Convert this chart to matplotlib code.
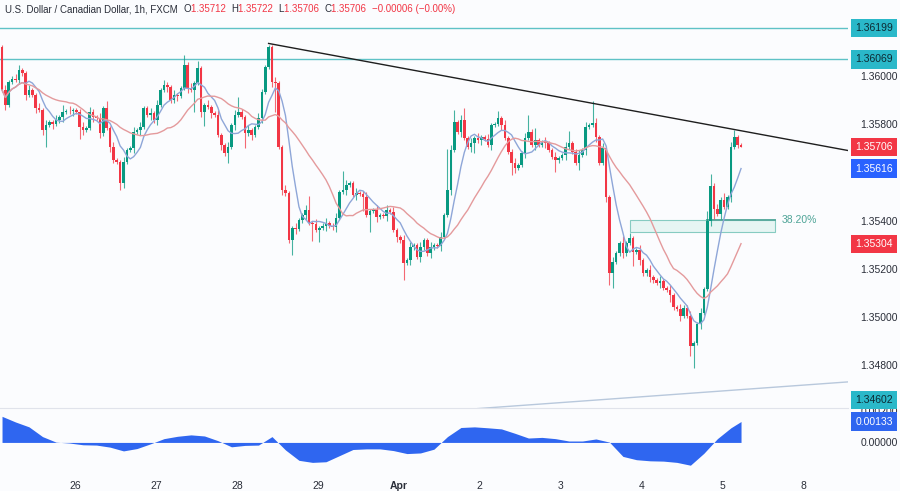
import matplotlib.pyplot as plt
import matplotlib.patches as patches
import numpy as np
import pandas as pd

plt.rcParams["font.family"] = ["Liberation Sans", "DejaVu Sans"]

# USD/CAD 1h candles (closes), opens = previous close
first_open = 1.36120
closes = [
    1.35942, 1.35880, 1.35975, 1.35988, 1.35985, 1.36025, 1.36012, 1.35921, 1.35942, 1.35921,
    1.35867, 1.35859, 1.35776, 1.35797, 1.35809, 1.35801, 1.35817, 1.35830, 1.35851, 1.35855,
    1.35853, 1.35859, 1.35851, 1.35788, 1.35776, 1.35784, 1.35851, 1.35830, 1.35826, 1.35763,
    1.35867, 1.35784, 1.35705, 1.35651, 1.35643, 1.35556, 1.35643, 1.35693, 1.35701, 1.35768,
    1.35776, 1.35788, 1.35867, 1.35838, 1.35846, 1.35817, 1.35880, 1.35942, 1.35963, 1.35954,
    1.35900, 1.35921, 1.35918, 1.35950, 1.36046, 1.35950, 1.35942, 1.35971, 1.36033, 1.35851,
    1.35880, 1.35871, 1.35846, 1.35838, 1.35755, 1.35714, 1.35680, 1.35705, 1.35797, 1.35838,
    1.35851, 1.35830, 1.35763, 1.35776, 1.35755, 1.35788, 1.35826, 1.35934, 1.36037, 1.36120,
    1.35975, 1.35971, 1.35705, 1.35527, 1.35514, 1.35319, 1.35369, 1.35365, 1.35402, 1.35423,
    1.35444, 1.35390, 1.35386, 1.35361, 1.35369, 1.35378, 1.35390, 1.35378, 1.35373, 1.35411,
    1.35519, 1.35527, 1.35548, 1.35556, 1.35506, 1.35514, 1.35512, 1.35498, 1.35423, 1.35440,
    1.35444, 1.35415, 1.35423, 1.35420, 1.35444, 1.35436, 1.35361, 1.35332, 1.35319, 1.35224,
    1.35236, 1.35290, 1.35299, 1.35249, 1.35290, 1.35319, 1.35265, 1.35290, 1.35299, 1.35295,
    1.35332, 1.35423, 1.35527, 1.35693, 1.35809, 1.35768, 1.35817, 1.35743, 1.35705, 1.35722,
    1.35743, 1.35734, 1.35747, 1.35739, 1.35714, 1.35797, 1.35801, 1.35826, 1.35797, 1.35743,
    1.35685, 1.35639, 1.35618, 1.35631, 1.35680, 1.35743, 1.35768, 1.35714, 1.35734, 1.35714,
    1.35726, 1.35722, 1.35693, 1.35664, 1.35651, 1.35660, 1.35672, 1.35705, 1.35722, 1.35685,
    1.35639, 1.35672, 1.35693, 1.35788, 1.35797, 1.35805, 1.35747, 1.35639, 1.35701, 1.35498,
    1.35182, 1.35228, 1.35265, 1.35307, 1.35265, 1.35307, 1.35328, 1.35270, 1.35278, 1.35236,
    1.35182, 1.35195, 1.35166, 1.35153, 1.35141, 1.35149, 1.35120, 1.35112, 1.35091, 1.35041,
    1.35033, 1.35004, 1.35038, 1.35004, 1.34880, 1.34892, 1.34971, 1.35017, 1.35116, 1.35399,
    1.35544, 1.35448, 1.35428, 1.35486, 1.35457, 1.35498, 1.35705, 1.35747, 1.35712, 1.35706,
]
# wick lengths beyond the body, in pips
wick_hi = [
    1, 2, 1, 1, 2, 2, 1, 1, 2, 1, 1, 2, 1, 2, 1, 1, 2, 1, 3, 1,
    2, 1, 1, 1, 2, 1, 2, 1, 1, 2, 1, 3, 1, 2, 1, 1, 2, 1, 1, 2,
    1, 2, 1, 1, 2, 1, 2, 1, 2, 1, 1, 2, 1, 1, 4, 1, 2, 1, 3, 1,
    1, 2, 1, 1, 2, 1, 1, 2, 1, 2, 6, 1, 1, 2, 1, 1, 2, 1, 1, 1,
    1, 2, 1, 1, 2, 1, 1, 2, 1, 1, 2, 6, 1, 2, 1, 1, 2, 1, 1, 2,
    1, 8, 2, 1, 1, 2, 1, 1, 2, 1, 1, 2, 1, 1, 2, 1, 2, 1, 1, 2,
    1, 2, 1, 1, 2, 1, 1, 2, 1, 1, 2, 1, 17, 2, 5, 1, 2, 5, 1, 2,
    1, 2, 1, 1, 2, 1, 1, 3, 1, 2, 1, 1, 2, 1, 1, 2, 7, 1, 5, 1,
    1, 2, 1, 1, 2, 1, 1, 2, 5, 1, 1, 2, 1, 2, 1, 9, 2, 1, 2, 1,
    1, 2, 1, 1, 3, 1, 2, 1, 1, 2, 1, 1, 2, 1, 1, 2, 1, 1, 2, 1,
    1, 2, 1, 1, 2, 1, 1, 2, 1, 4, 5, 1, 2, 1, 3, 1, 2, 3, 1, 1,
]
wick_lo = [
    1, 2, 1, 1, 1, 2, 1, 2, 1, 1, 2, 1, 2, 7, 1, 2, 1, 1, 2, 1,
    1, 2, 1, 5, 2, 1, 1, 2, 1, 2, 1, 1, 2, 1, 1, 3, 2, 1, 1, 2,
    1, 2, 1, 1, 2, 1, 2, 1, 1, 2, 1, 1, 2, 1, 1, 2, 1, 9, 1, 2,
    6, 1, 2, 1, 1, 2, 1, 4, 1, 2, 1, 1, 6, 1, 2, 1, 1, 2, 1, 1,
    2, 12, 1, 2, 1, 1, 6, 2, 1, 1, 2, 1, 7, 1, 5, 1, 2, 1, 1, 2,
    1, 1, 2, 1, 1, 2, 1, 6, 1, 7, 1, 2, 1, 1, 2, 1, 1, 2, 1, 7,
    1, 2, 1, 1, 2, 1, 1, 2, 1, 1, 2, 1, 1, 2, 1, 1, 2, 1, 1, 2,
    4, 1, 2, 1, 1, 2, 1, 1, 2, 1, 1, 5, 2, 1, 1, 2, 1, 1, 2, 1,
    1, 2, 1, 1, 5, 1, 1, 2, 1, 1, 1, 3, 1, 2, 1, 1, 2, 1, 1, 2,
    5, 6, 1, 1, 2, 1, 1, 6, 1, 2, 1, 1, 2, 1, 1, 2, 1, 1, 3, 1,
    1, 2, 1, 1, 4, 9, 1, 2, 1, 1, 2, 4, 1, 2, 1, 1, 2, 1, 1, 0,
]

# lower oscillator pane, sampled every 4 bars
osc_bars = list(range(0, 220, 4)) + [219]
osc_vals = [
    0.00166, 0.00130, 0.00099, 0.00037, 0.00002, -0.00004, -0.00015, -0.00017, -0.00030, -0.00054,
    -0.00039, -0.00009, 0.00024, 0.00039, 0.00048, 0.00041, 0.00011, -0.00028, -0.00019, -0.00017,
    0.00037, -0.00048, -0.00114, -0.00127, -0.00123, -0.00084, -0.00045, -0.00041, -0.00041, -0.00052,
    -0.00071, -0.00067, -0.00043, 0.00037, 0.00095, 0.00099, 0.00093, 0.00086, 0.00058, 0.00028,
    0.00032, 0.00024, 0.00009, 0.00009, 0.00022, 0.00002, -0.00089, -0.00110, -0.00117, -0.00119,
    -0.00127, -0.00145, -0.00069, 0.00024, 0.00093, 0.00133,
]

level_prices = [1.36199, 1.36069]
trend_bars = [79, 251]
trend_prices = [1.36135, 1.35690]
support_bars = [141, 251]
support_prices = [1.34620, 1.34731]
fib_bars = [186, 229]
fib_prices = [1.35353, 1.35402]
day_labels = ["26", "27", "28", "29", "Apr", "2", "3", "4", "5", "8"]
price_ticks = [1.348, 1.350, 1.352, 1.354, 1.358, 1.360]

df = pd.DataFrame({"close": closes})
df["open"] = df["close"].shift(1).fillna(first_open)
df["high"] = df[["open", "close"]].max(axis=1) + np.array(wick_hi) * 0.0001
df["low"] = df[["open", "close"]].min(axis=1) - np.array(wick_lo) * 0.0001
df["fast"] = df["close"].rolling(7, min_periods=1).mean()
df["slow"] = df["close"].rolling(20, min_periods=1).mean()
x = np.arange(len(df))

BG = "#fbfcfe"
GREEN = "#089981"
RED = "#f23645"
TXT = "#2a2e39"

fig = plt.figure(figsize=(9, 4.91), dpi=100, facecolor=BG)
ax = fig.add_axes([0, 1 - 408 / 491, 848 / 900, 408 / 491], facecolor=BG)
ax2 = fig.add_axes([0, 25 / 491, 848 / 900, 58 / 491], facecolor=BG, sharex=ax)

up = df["close"] >= df["open"]
colors = np.where(up, GREEN, RED)
ax.vlines(x, df["low"], df["high"], colors=colors, lw=0.8, alpha=0.75, zorder=3)
body = (df["close"] - df["open"]).abs().clip(lower=0.000015)
ax.bar(x, body, bottom=df[["open", "close"]].min(axis=1), width=0.78,
       color=colors, lw=0, zorder=4)

ax.plot(x, df["fast"], color="#8ea6d8", lw=1, zorder=5)
ax.plot(x, df["slow"], color="#e49a9c", lw=1, zorder=5)

for p in level_prices:
    ax.axhline(p, color="#5ec2c6", lw=1, zorder=2)
ax.plot(trend_bars, trend_prices, color="#1e1e1e", lw=1, zorder=6)
ax.plot(support_bars, support_prices, color="#b8c8dc", lw=1, zorder=2)

ax.add_patch(patches.Rectangle((fib_bars[0], fib_prices[0]), fib_bars[1] - fib_bars[0],
                               fib_prices[1] - fib_prices[0], fc="#e6f5f3", ec="#86cbc1",
                               lw=0.8, zorder=2))
ax.plot([fib_bars[0] + 23, fib_bars[1]], [fib_prices[1]] * 2, color="#5aab9f", lw=1.4, zorder=2)
ax.text(fib_bars[1] + 2, fib_prices[1], "38.20%", color="#4ea497", fontsize=7.5,
        va="center", ha="left")

ax.set_xlim(-0.6, 250.7)
ax.set_ylim(1.346224, 1.363153)
ax.yaxis.tick_right()
ax.set_yticks(price_ticks)
ax.set_yticklabels([f"{t:.5f}" for t in price_ticks])
ax.tick_params(axis="y", length=0, pad=9, labelsize=7.5, labelcolor=TXT)
ax.tick_params(axis="x", length=0, labelbottom=False)
for s in ax.spines.values():
    s.set_visible(False)

# oscillator
ax2.fill_between(osc_bars, osc_vals, 0, color="#2f66f0", lw=0)
ax2.set_ylim(-0.00150, 0.00219)
ax2.yaxis.tick_right()
ax2.set_yticks([0.0, 0.002])
ax2.set_yticklabels(["0.00000", "0.00200"])
ax2.tick_params(axis="y", length=0, pad=9, labelsize=7.5, labelcolor=TXT)
ax2.set_xticks([21.6 + 24 * k for k in range(len(day_labels))])
ax2.set_xticklabels(day_labels)
ax2.tick_params(axis="x", length=0, pad=11, labelsize=7.5, labelcolor=TXT)
for lab in ax2.get_xticklabels():
    if lab.get_text() == "Apr":
        lab.set_fontweight("bold")
for s in ax2.spines.values():
    s.set_visible(False)
ax2.spines["top"].set_visible(True)
ax2.spines["top"].set_color("#e0e3eb")


def tag(axis, y, text, bg, fg):
    axis.text(1.0085, y, text, transform=axis.get_yaxis_transform(), va="center", ha="left",
              fontsize=7.5, color=fg, zorder=10, clip_on=False,
              bbox=dict(boxstyle="square,pad=0.4", fc=bg, ec="none"))


tag(ax, level_prices[0], f"{level_prices[0]:.5f}", "#2ab8c9", "#0d2a33")
tag(ax, level_prices[1], f"{level_prices[1]:.5f}", "#2ab8c9", "#0d2a33")
tag(ax, closes[-1], f"{closes[-1]:.5f}", RED, "white")
tag(ax, df["fast"].iloc[-1], f"{df['fast'].iloc[-1]:.5f}", "#2962ff", "white")
tag(ax, df["slow"].iloc[-1], f"{df['slow'].iloc[-1]:.5f}", RED, "white")
tag(ax2, osc_vals[-1], f"{osc_vals[-1]:.5f}", "#2f66f0", "white")
# support line level sits below the pane, so its tag is pinned to the pane bottom
fig.text(855.5 / 900, 1 - 400 / 491, f"{support_prices[0] - 0.00018:.5f}", fontsize=7.5,
         color="#0d2a33", va="center", ha="left", zorder=10,
         bbox=dict(boxstyle="square,pad=0.4", fc="#2ab8c9", ec="none"))

# header line
header = [
    ("U.S. Dollar / Canadian Dollar, 1h, FXCM  ", TXT),
    ("O", TXT), ("1.35712  ", RED), ("H", TXT), ("1.35722  ", RED),
    ("L", TXT), ("1.35706  ", RED), ("C", TXT), ("1.35706  ", RED),
    ("\u22120.00006 (\u22120.00%)", RED),
]
renderer = fig.canvas.get_renderer()
xpos = 5 / 900
for txt, col in header:
    t = fig.text(xpos, 1 - 9 / 491, txt, fontsize=7, color=col, va="center", ha="left")
    bb = t.get_window_extent(renderer=renderer)
    xpos += bb.width / fig.bbox.width

fig.savefig("out.png", dpi=100, facecolor=BG)
